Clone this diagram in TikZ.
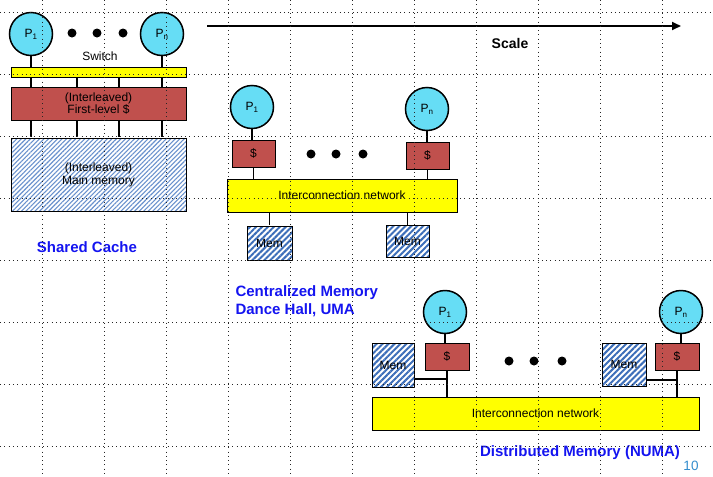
\documentclass[tikz,border=0pt]{standalone}
\usepackage{fontspec}
\setmainfont{Liberation Sans}
\usetikzlibrary{patterns.meta,arrows.meta}
\definecolor{proccyan}{RGB}{102,221,245}
\definecolor{cachered}{RGB}{192,80,77}
\definecolor{netyellow}{RGB}{255,255,0}
\definecolor{hatchblue}{RGB}{60,110,185}
\definecolor{hatchlight}{RGB}{105,145,205}
\definecolor{labelblue}{RGB}{20,20,240}
\definecolor{pagenum}{RGB}{50,140,205}
\tikzset{
  txt/.style={font=\fontsize{12}{13}\selectfont},
  proc/.style={circle, draw, line width=1.5pt, fill=proccyan, minimum size=43pt, inner sep=0pt, txt},
  dotn/.style={circle, fill=black, minimum size=9pt, inner sep=0pt},
  cachebox/.style={rectangle, draw, line width=0.8pt, fill=cachered, inner sep=0pt, txt, align=center},
  netbox/.style={rectangle, draw, line width=0.8pt, fill=netyellow, inner sep=0pt, txt},
  membox/.style={rectangle, draw, line width=0.8pt, preaction={fill=white}, pattern={Lines[angle=45,distance=4.2pt,line width=2pt]}, pattern color=hatchblue, inner sep=0pt, txt, align=center},
  mainmembox/.style={rectangle, draw, line width=0.8pt, preaction={fill=white}, pattern={Lines[angle=45,distance=3.2pt,line width=1.1pt]}, pattern color=hatchlight, inner sep=0pt, txt, align=center},
  wire/.style={line width=1.7pt},
  thinwire/.style={line width=1.2pt},
  biglabel/.style={font=\fontsize{15}{18}\selectfont\bfseries, text=labelblue},
  griddot/.style={line width=0.9pt, dash pattern=on 0.9pt off 3.4pt, black!85}
}
\begin{document}
\begin{tikzpicture}[x=1pt,y=-1pt]
\useasboundingbox (0,0) rectangle (713,477);
% ---- Scale arrow
\coordinate (sA) at (207,26);
\coordinate (sB) at (681,26);
\draw[line width=2pt, -{Triangle[length=9pt,width=8pt]}] (sA) -- (sB);
\node[font=\fontsize{14}{16}\selectfont\bfseries] (scale) at (510,43) {Scale};
% ---- Shared cache
\node[proc] (P1s) at (31,34) {P\textsubscript{1}};
\node[proc] (Pns) at (162,34) {P\textsubscript{n}};
\node[dotn] (ds1) at (72,33) {};
\node[dotn] (ds2) at (97,33) {};
\node[dotn] (ds3) at (123,33) {};
\node[txt] (swlab) at (100,56) {Switch};
\node[netbox, minimum width=175pt, minimum height=10pt] (swbar) at (98.5,72) {};
\node[cachebox, minimum width=175pt, minimum height=33pt, font=\fontsize{12}{10.5}\selectfont] (l1) at (98.5,103.5) {(Interleaved)\\First-level \$};
\node[mainmembox, minimum width=175pt, minimum height=73pt] (mm) at (98.5,174.5) {(Interleaved)\\Main memory};
\coordinate (x2) at (77,0);
\coordinate (x3) at (119,0);
\draw[wire] (P1s) -- (P1s |- swbar.north);
\draw[wire] (Pns) -- (Pns |- swbar.north);
\foreach \c in {P1s,x2,x3,Pns}{
  \draw[wire] (\c |- swbar.south) -- (\c |- l1.north);
  \draw[wire] (\c |- l1.south) -- (\c |- mm.north);
}
\node[biglabel] (lshared) at (87,247) {Shared Cache};
% ---- Centralized memory
\node[proc] (P1c) at (252,107) {P\textsubscript{1}};
\node[proc] (Pnc) at (427,109) {P\textsubscript{n}};
\node[cachebox, minimum width=43pt, minimum height=27pt] (c1) at (253.5,153.5) {\$};
\node[cachebox, minimum width=43pt, minimum height=27pt] (c2) at (427.5,155.5) {\$};
\node[dotn] (dc1) at (311,154) {};
\node[dotn] (dc2) at (336,154) {};
\node[dotn] (dc3) at (363,154) {};
\node[netbox, minimum width=230pt, minimum height=33pt] (net1) at (342,195.5) {Interconnection network};
\node[membox, minimum width=45pt, minimum height=34pt] (mem1) at (269.5,243) {Mem};
\node[membox, minimum width=43pt, minimum height=32pt] (mem2) at (407.5,241) {Mem};
\draw[wire] (P1c) -- (P1c |- c1.north);
\draw[wire] (Pnc) -- (Pnc |- c2.north);
\draw[wire] (c1) -- (c1 |- net1.north);
\draw[wire] (c2) -- (c2 |- net1.north);
\draw[wire] (mem1.north |- net1.south) -- (mem1.north);
\draw[wire] (mem2.north |- net1.south) -- (mem2.north);
\node[biglabel, align=left, anchor=west] (lcentral) at (232,301) {Centralized Memory\\Dance Hall, UMA};
% ---- Distributed memory
\node[proc] (P1d) at (445,312) {P\textsubscript{1}};
\node[proc] (Pnd) at (681,312) {P\textsubscript{n}};
\node[cachebox, minimum width=44pt, minimum height=27pt] (c3) at (447,356.5) {\$};
\node[cachebox, minimum width=44pt, minimum height=27pt] (c4) at (677,356.5) {\$};
\node[membox, minimum width=42pt, minimum height=44pt] (memd1) at (393,365) {Mem};
\node[membox, minimum width=44pt, minimum height=43pt] (memd2) at (624,364.5) {Mem};
\node[dotn] (dd1) at (509,361) {};
\node[dotn] (dd2) at (534,361) {};
\node[dotn] (dd3) at (562,361) {};
\node[netbox, minimum width=327pt, minimum height=33pt] (net2) at (535.5,413.5) {Interconnection network};
\draw[wire] (P1d) -- (P1d |- c3.north);
\draw[wire] (Pnd) -- (Pnd |- c4.north);
\draw[wire] (c3) -- (c3 |- net2.north);
\draw[wire] (c4) -- (c4 |- net2.north);
\draw[thinwire] ([yshift=-14pt]memd1.east) -- ([yshift=-14pt]memd1.east -| c3.south);
\draw[thinwire] ([yshift=-15.5pt]memd2.east) -- ([yshift=-15.5pt]memd2.east -| c4.south);
\node[biglabel] (ldist) at (580,453) {Distributed Memory (NUMA)};
\node[font=\fontsize{13.5}{15}\selectfont, text=pagenum] (pnum) at (691,466) {10};
% ---- dotted grid
\foreach \gx in {42,104,...,663} \draw[griddot] (\gx,0) -- (\gx,477);
\foreach \gy in {12,74,...,446} \draw[griddot] (0,\gy) -- (713,\gy);
\end{tikzpicture}
\end{document}
